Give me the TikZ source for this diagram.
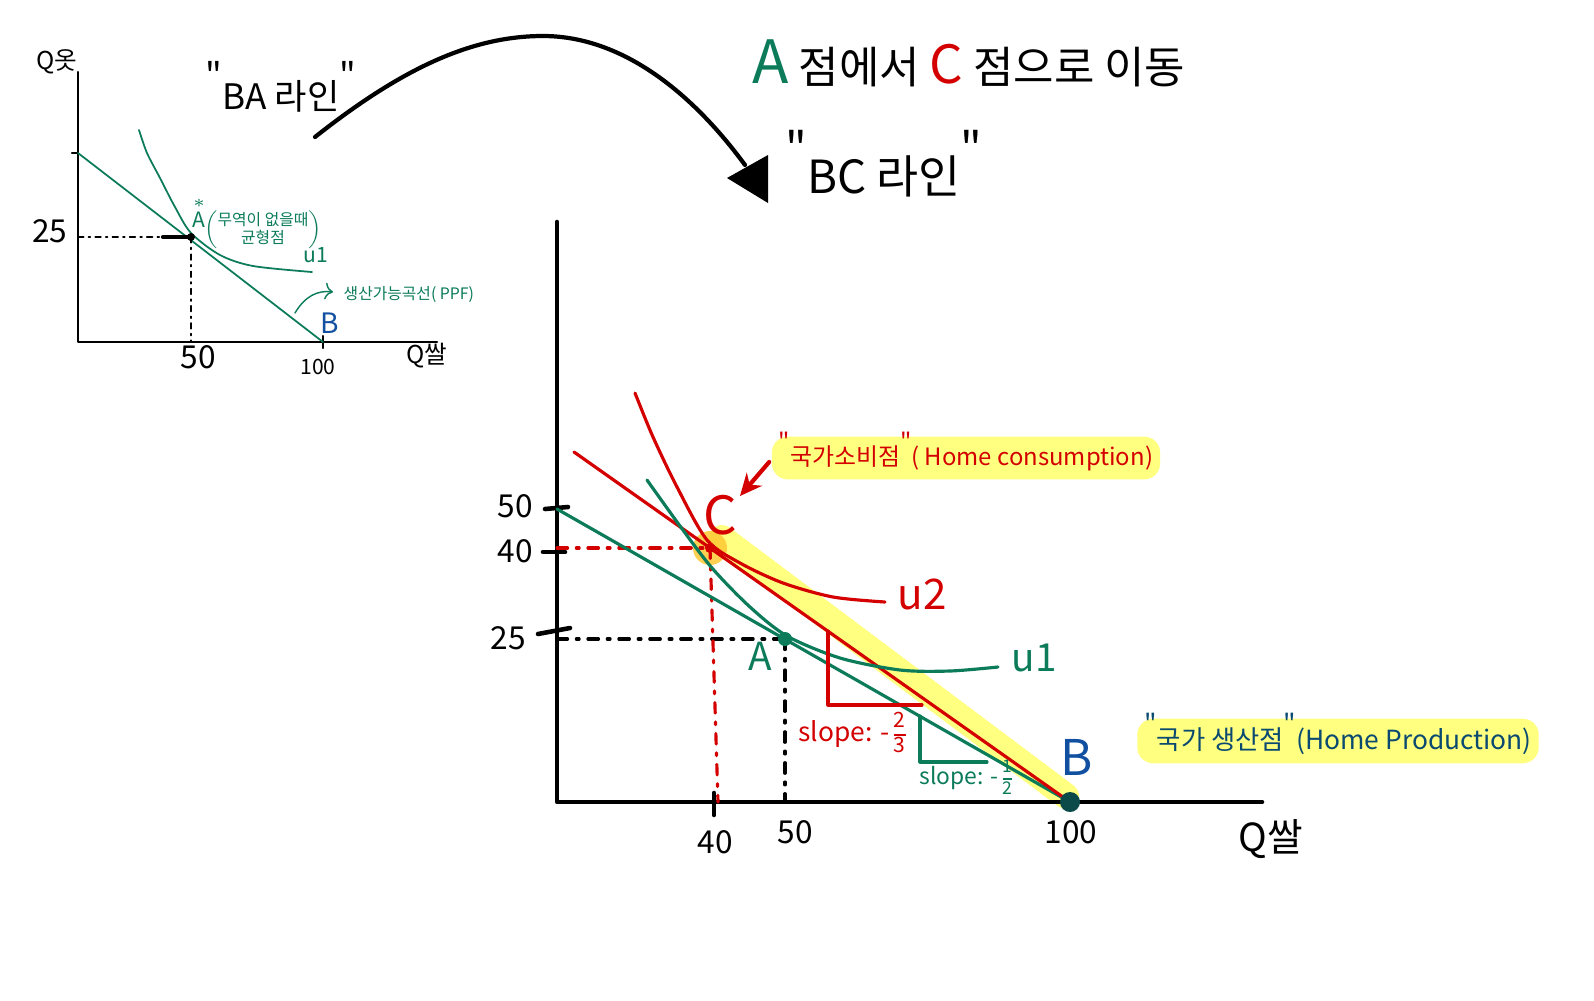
\documentclass[tikz,border=0pt]{standalone}
\usepackage{fontspec}
\setmainfont{Noto Sans CJK KR}
\usepackage{amsmath}
\usetikzlibrary{arrows.meta}

\definecolor{ppfgreen}{HTML}{0B7B5A}
\definecolor{hred}{HTML}{D40000}
\definecolor{bblue}{HTML}{1150A0}
\definecolor{prodblue}{HTML}{0B4A70}
\definecolor{bdot}{HTML}{0B4A48}
\definecolor{hiyellow}{HTML}{FFFF80}
\definecolor{glow}{HTML}{FFC832}

\newcommand\hq{\smash{\raisebox{0.6em}{\textquotedbl}}}
\newcommand\slfrac[3]{{\renewcommand\arraystretch{0.9}\begin{tabular}[c]{@{}c@{}}\fontsize{#1}{#1}\selectfont #2\\\hline\fontsize{#1}{#1}\selectfont #3\end{tabular}}}

\tikzset{
  fs/.style={font=\fontsize{#1}{#1}\selectfont, inner sep=0pt},
  axis/.style={line width=1.3pt},
  ppf/.style={ppfgreen, line width=0.9pt},
  trade/.style={hred, line width=0.9pt},
  guide/.style={line width=0.9pt, dash pattern=on 3pt off 2.5pt on 0.8pt off 2.5pt},
  sguide/.style={line width=0.5pt, dash pattern=on 1.6pt off 1.4pt on 0.5pt off 1.4pt},
  marker/.style={fill=hiyellow, rounded corners=1.6mm, inner xsep=2pt, inner ysep=2.5pt},
}

\begin{document}
\begin{tikzpicture}[x=0.1mm, y=-0.1mm, line cap=round, line join=round]
  \useasboundingbox (0,0) rectangle (1594,1000);

  % ---- small graph: no trade ----
  \coordinate (sO) at (78,342);
  \coordinate (sY) at (78,72);
  \coordinate (sX) at (437,342);
  \coordinate (sP) at (78,153);
  \coordinate (sA) at (191,237);
  \coordinate (sB) at (323,342);
  \draw[line width=0.6pt] (sY) -- (sO) -- (sX);
  \draw[line width=0.6pt] (72,153) -- (sP);
  \draw[line width=0.6pt] (323,336) -- (323,348);
  \draw[ppf, line width=0.5pt] (sP) -- (sB);
  \draw[ppf, line width=0.5pt] plot[smooth] coordinates
    {(139,130) (147,153) (160,178) (175,207) (191,233) (220,255) (253,266) (312,272)};
  \draw[sguide] (sO |- sA) -- (sA);
  \draw[line width=1.2pt] (163,237) -- (sA);
  \draw[sguide] (sA) -- (sA |- sO);
  \fill (sA) circle (0.4mm);
  \draw[ppf, line width=0.4pt, -{To[length=0.8mm]}] (295,313) .. controls (305,296) and (318,290) .. (333,292);

  \node[fs=7] (sQy) at (57,62) {Q옷};
  \node[fs=7] (sQx) at (427,356) {Q쌀};
  \node[fs=9] (s25) at (50,231) {25};
  \node[fs=9] (s50) at (198,357) {50};
  \node[fs=6] (s100) at (318,367) {100};
  \node[fs=8, bblue] (sBl) at (330,323) {B};
  \node[fs=6, ppfgreen] (sAl) at (199,212) {$\overset{*}{\text{A}}$};
  \node[fs=4.5, ppfgreen] (sAtxt) at (263,230)
    {$\left(\begin{tabular}{@{}c@{}}무역이 없을때\\균형점\end{tabular}\right)$};
  \node[fs=6, ppfgreen] (su1) at (316,255) {u1};
  \node[fs=4.5, ppfgreen, anchor=west] (sppf) at (343,295) {생산가능곡선( PPF)};

  % ---- titles and the big arrow ----
  \node[fs=10, anchor=west] (BA) at (205,96) {\hq{}BA 라인\hq};
  \node[fs=12.5, anchor=west] (move) at (752,63)
    {{\fontsize{17}{17}\selectfont\color{ppfgreen}A} 점에서 {\fontsize{15}{15}\selectfont\color{hred}C} 점으로 이동};
  \node[fs=13, anchor=west] (BC) at (785,176) {\hq{}BC 라인\hq};
  \coordinate (arrS) at (315,137);
  \coordinate (arrE) at (745,165);
  \draw[line width=1.2pt] (arrS) .. controls (400,70) and (470,36) .. (543,36)
    .. controls (620,36) and (690,90) .. (arrE);
  \fill (768,155) -- (768,203) -- (727,178) -- cycle;

  % ---- main graph: with trade ----
  \coordinate (O) at (557,802);
  \coordinate (Y) at (557,222);
  \coordinate (X) at (1262,802);
  \coordinate (P) at (557,509);
  \coordinate (T) at (574,452);
  \coordinate (A) at (785,639);
  \coordinate (B) at (1070,802);
  \coordinate (C) at (710,548);
  \coordinate (C0) at (718,802);

  % highlights
  \draw[hiyellow, line width=7.4pt] (722,538) -- (1066,796);
  \fill[glow, opacity=0.85] (C) circle (1.7mm);

  \draw[axis] (Y) -- (O) -- (X);
  \draw[axis] (545,509) -- (568,507);
  \draw[axis] (543,552) -- (565,552);
  \draw[axis] (538,634) -- (570,628);
  \draw[axis] (714,793) -- (714,815);

  \draw[guide] (O |- A) -- (A);
  \draw[guide] (A) -- (A |- O);
  \draw[guide, hred] (O |- C) -- (C);
  \draw[guide, hred] (C) -- (C0);

  \draw[ppf] (P) -- (B);
  \draw[trade] (T) -- (C) -- (B);
  \draw[ppf] plot[smooth] coordinates
    {(647,480) (680,526) (712,568) (750,607) (787,636) (840,658) (900,670) (950,671) (998,667)};
  \draw[trade] plot[smooth] coordinates
    {(635,393) (653,437) (677,487) (707,540) (740,563) (783,583) (833,597) (885,602)};

  % slope triangles
  \draw[trade] (828,631) -- (828,705) -- (922,705);
  \draw[ppf] (920,716) -- (920,762) -- (987,762);

  \fill[ppfgreen] (A) circle (0.7mm);
  \fill[hred] (C) circle (0.5mm);
  \fill[bdot] (B) circle (1mm);

  % labels
  \node[fs=9] (y50) at (515,506) {50};
  \node[fs=9] (y40) at (515,551) {40};
  \node[fs=9] (y25) at (508,638) {25};
  \node[fs=9] (x40) at (715,842) {40};
  \node[fs=9] (x50) at (795,832) {50};
  \node[fs=9] (x100) at (1071,832) {100};
  \node[fs=11] (Qx) at (1271,839) {Q쌀};
  \node[fs=15, hred] (Cl) at (720,515) {C};
  \node[fs=11, ppfgreen] (Al) at (760,656) {A};
  \node[fs=14, bblue] (Bl) at (1077,757) {B};
  \node[fs=12, hred] (u2) at (922,594) {u2};
  \node[fs=11, ppfgreen] (u1) at (1034,658) {u1};
  \node[fs=7.5, hred] (slope2) at (852,735) {slope: -\,\slfrac{6}{2}{3}};
  \node[fs=6.5, ppfgreen] (slope1) at (966,779) {slope: -\,\slfrac{5}{1}{2}};

  \node[fs=6.8, hred, marker] (cons) at (966,458) {\hq{}국가소비점\hq( Home consumption)};
  \draw[hred, line width=1.2pt, -{Stealth[length=2.2mm, width=2mm]}] (cons.west) ++(-2,4) -- (740,496);
  \node[fs=7.5, prodblue, marker] (prod) at (1338,741) {\hq{}국가 생산점\hq(Home Production)};
\end{tikzpicture}
\end{document}
